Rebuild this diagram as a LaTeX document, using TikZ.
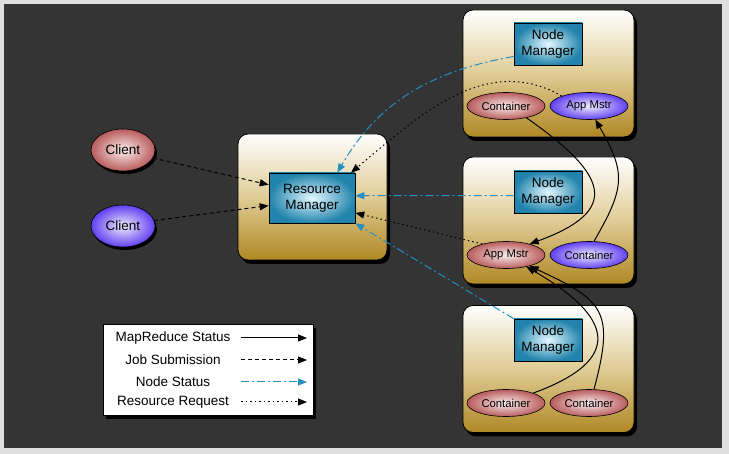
\documentclass[tikz,border=0pt]{standalone}
\usepackage{fontspec}
\setmainfont{Liberation Sans}
\usetikzlibrary{arrows.meta, positioning, shapes.geometric, shadows}

\definecolor{bgdark}{RGB}{52,52,52}
\definecolor{bgframe}{RGB}{222,222,222}
\definecolor{boxgold}{RGB}{176,136,36}
\definecolor{boxtan}{RGB}{224,204,150}
\definecolor{mgrblue}{RGB}{34,132,172}
\definecolor{mgrlight}{RGB}{228,248,255}
\definecolor{podpink}{RGB}{184,92,92}
\definecolor{podlight}{RGB}{252,238,238}
\definecolor{podpurple}{RGB}{96,64,240}
\definecolor{podlilac}{RGB}{240,236,255}
\definecolor{statblue}{RGB}{38,142,192}

\begin{document}
\begin{tikzpicture}[x=1pt, y=-1pt, every node/.style={font=\fontsize{13.5}{16}\selectfont},
  hostbox/.style={draw=black, line width=0.8pt, rounded corners=10pt, minimum width=171pt, minimum height=127pt,
    top color=white, bottom color=boxgold, middle color=boxtan,
    drop shadow={shadow xshift=3pt, shadow yshift=-4pt, fill=black, opacity=1}},
  mgr/.style={draw=black, line width=0.6pt, minimum width=68pt, minimum height=42pt, inner sep=1pt,
    align=center, inner color=mgrlight, outer color=mgrblue},
  pod/.style={ellipse, draw=black, line width=0.6pt, minimum width=78pt, minimum height=27pt, inner sep=0pt,
    font=\fontsize{11.3}{13}\selectfont},
  podred/.style={pod, inner color=podlight, outer color=podpink},
  podviolet/.style={pod, inner color=podlilac, outer color=podpurple},
  client/.style={ellipse, draw=black, line width=0.6pt, minimum width=64pt, minimum height=42pt, inner sep=0pt,
    drop shadow={shadow xshift=2pt, shadow yshift=-3pt, fill=black, opacity=1}},
  tip/.style={-{Triangle[length=9pt, width=7pt]}},
  mrstat/.style={tip, draw=black, line width=1pt},
  jobsub/.style={tip, draw=black, line width=1pt, dash pattern=on 4pt off 3pt},
  nodestat/.style={tip, draw=statblue, line width=1pt, dash pattern=on 8pt off 3pt on 2pt off 3pt},
  resreq/.style={tip, draw=black, line width=1pt, dash pattern=on 1.5pt off 3pt}]
  \useasboundingbox (0,0) rectangle (729,454);
  % Frame and dark background
  \fill[bgframe] (0,0) rectangle (729,454);
  \fill[bgdark] (4,4) rectangle (722,448);
  % Clients
  \node[client, inner color=podlight, outer color=podpink] (clA) at (123,150) {Client};
  \node[client, inner color=podlilac, outer color=podpurple] (clB) at (123,226) {Client};
  % Resource manager host
  \node[hostbox, minimum width=149pt, minimum height=126pt] (rmhost) at (312.5,197) {};
  \node[mgr, minimum width=86pt, minimum height=50pt] (rm) at (312,198) {Resource\\Manager};
  % Node manager hosts
  \node[hostbox] (hostA) at (548.5,73.5) {};
  \node[hostbox] (hostB) at (548.5,220.5) {};
  \node[hostbox] (hostC) at (548.5,369) {};
  \node[mgr] (nmA) at (548,44) {Node\\Manager};
  \node[mgr] (nmB) at (548,192) {Node\\Manager};
  \node[mgr] (nmC) at (548,340) {Node\\Manager};
  \node[podred] (ctA) at (506,106) {Container};
  \node[podviolet] (amA) at (589,106) {App Mstr};
  \node[podred] (amB) at (506,255) {App Mstr};
  \node[podviolet] (ctB) at (589,255) {Container};
  \node[podred] (ctC) at (506,403) {Container};
  \node[podred] (ctD) at (589,403) {Container};
  % Job submission
  \draw[jobsub] (clA.-15) -- (rm.163);
  \draw[jobsub] (clB.10) -- (rm.190);
  % Node status
  \draw[nodestat, -{Triangle[length=9pt, width=7pt, fill=statblue]}] (nmA.200) to[out=190, in=60] (rm.45);
  \draw[nodestat, -{Triangle[length=9pt, width=7pt, fill=statblue]}] (nmB.186) -- (rm.3);
  \draw[nodestat, -{Triangle[length=9pt, width=7pt, fill=statblue]}] (nmC.north west) -- (rm.south east);
  % Resource requests
  \draw[resreq] (amA.160) to[out=150, in=40] (rm.33);
  \draw[resreq] (amB.155) -- (rm.-19);
  % MapReduce status
  \draw[mrstat] (ctA.-30) to[out=-35, in=20, looseness=2] (amB.25);
  \draw[mrstat] (ctB.70) to[out=60, in=-60, looseness=1.3] (amA.-65);
  \draw[mrstat] (ctC.20) to[out=20, in=-30, looseness=2] (amB.-30);
  \draw[mrstat] (ctD.70) to[out=75, in=-25, looseness=1.5] (amB.-25);
  % Legend
  \node[draw=black, fill=white, line width=0.6pt, minimum width=210pt, minimum height=91pt,
    drop shadow={shadow xshift=3pt, shadow yshift=-4pt, fill=black, opacity=1}] (key) at (208,369.5) {};
  \foreach \y/\txt/\sty [count=\i] in {338/MapReduce Status/mrstat, 360/Job Submission/jobsub,
      382/Node Status/nodestat, 402/Resource Request/resreq}{
    \node (key\i) at (173,\y) {\txt};
    \coordinate (keys\i) at (241,\y);
    \coordinate (keye\i) at (307,\y);
    \draw[\sty] (keys\i) -- (keye\i);
  }
\end{tikzpicture}
\end{document}
